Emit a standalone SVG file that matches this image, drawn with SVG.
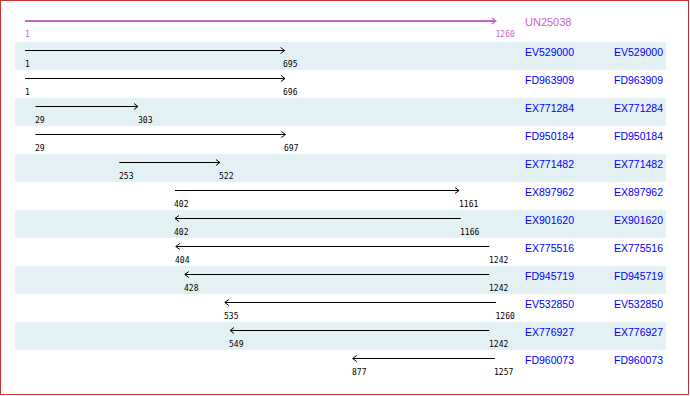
<svg xmlns="http://www.w3.org/2000/svg" width="690" height="396" viewBox="0 0 690 396">
<style>
.band{fill:#E3F0F4}
.hit{stroke:#000;stroke-width:1;fill:none;marker-end:url(#ah)}
.q{stroke:#C864C8;stroke-width:2;fill:none;marker-end:url(#ahq)}
.num{font-family:"DejaVu Sans Mono","Liberation Mono",monospace;font-size:8px;fill:#000}
.qnum{font-family:"DejaVu Sans Mono","Liberation Mono",monospace;font-size:8px;fill:#C864C8}
.name{font-family:"Liberation Sans",Arial,sans-serif;font-size:10.5px;fill:#0000FF}
.qname{font-family:"Liberation Sans",Arial,sans-serif;font-size:11px;fill:#C864C8}
</style>
<defs>
<marker id="ah" markerUnits="userSpaceOnUse" markerWidth="8" markerHeight="8" viewBox="-6 -4 8 8" refX="0" refY="0" orient="auto"><path d="M-4,-3 L0,0 L-4,3" fill="none" stroke="#000" stroke-width="1"/></marker>
<marker id="ahq" markerUnits="userSpaceOnUse" markerWidth="8" markerHeight="8" viewBox="-6 -4 8 8" refX="0" refY="0" orient="auto"><path d="M-4,-3 L0,0 L-4,3" fill="none" stroke="#C864C8" stroke-width="1.2"/></marker>
</defs>
<rect x="0.5" y="0.5" width="688" height="394" fill="#fff" stroke="#C83737" stroke-width="1"/>
<g id="bands">
<rect class="band" x="15" y="42" width="651" height="28"/>
<rect class="band" x="15" y="98" width="651" height="28"/>
<rect class="band" x="15" y="154" width="651" height="28"/>
<rect class="band" x="15" y="210" width="651" height="28"/>
<rect class="band" x="15" y="266" width="651" height="28"/>
<rect class="band" x="15" y="322" width="651" height="28"/>
</g>
<g id="connectors">
<line class="q" x1="25" y1="21" x2="496" y2="21"/>
<line class="hit" x1="25" y1="50.5" x2="284.6" y2="50.5"/>
<line class="hit" x1="25" y1="78.5" x2="285" y2="78.5"/>
<line class="hit" x1="35.5" y1="106.5" x2="138" y2="106.5"/>
<line class="hit" x1="35.5" y1="134.5" x2="285.4" y2="134.5"/>
<line class="hit" x1="119.3" y1="162.5" x2="219.9" y2="162.5"/>
<line class="hit" x1="175" y1="190.5" x2="459" y2="190.5"/>
<line class="hit" x1="460.8" y1="218.5" x2="175" y2="218.5"/>
<line class="hit" x1="489.3" y1="246.5" x2="175.8" y2="246.5"/>
<line class="hit" x1="489.3" y1="274.5" x2="184.8" y2="274.5"/>
<line class="hit" x1="496" y1="302.5" x2="224.8" y2="302.5"/>
<line class="hit" x1="489.3" y1="330.5" x2="230" y2="330.5"/>
<line class="hit" x1="494.9" y1="358.5" x2="352.7" y2="358.5"/>
</g>
<g id="query">
<text class="qnum" x="25" y="36.5">1</text>
<text class="qnum" x="495.5" y="36.5">1260</text>
<text class="qname" x="525" y="25.5">UN25038</text>
</g>
<g id="EV529000"><text class="num" x="25" y="66.5">1</text><text class="num" x="283" y="66.5">695</text><text class="name" x="525" y="56">EV529000</text><text class="name" x="614" y="56">EV529000</text></g>
<g id="FD963909"><text class="num" x="25" y="94.5">1</text><text class="num" x="283" y="94.5">696</text><text class="name" x="525" y="84">FD963909</text><text class="name" x="614" y="84">FD963909</text></g>
<g id="EX771284"><text class="num" x="35" y="122.5">29</text><text class="num" x="138" y="122.5">303</text><text class="name" x="525" y="112">EX771284</text><text class="name" x="614" y="112">EX771284</text></g>
<g id="FD950184"><text class="num" x="35" y="150.5">29</text><text class="num" x="284" y="150.5">697</text><text class="name" x="525" y="140">FD950184</text><text class="name" x="614" y="140">FD950184</text></g>
<g id="EX771482"><text class="num" x="119" y="178.5">253</text><text class="num" x="219" y="178.5">522</text><text class="name" x="525" y="168">EX771482</text><text class="name" x="614" y="168">EX771482</text></g>
<g id="EX897962"><text class="num" x="174" y="206.5">402</text><text class="num" x="459" y="206.5">1161</text><text class="name" x="525" y="196">EX897962</text><text class="name" x="614" y="196">EX897962</text></g>
<g id="EX901620"><text class="num" x="174" y="234.5">402</text><text class="num" x="460" y="234.5">1166</text><text class="name" x="525" y="224">EX901620</text><text class="name" x="614" y="224">EX901620</text></g>
<g id="EX775516"><text class="num" x="175" y="262.5">404</text><text class="num" x="489" y="262.5">1242</text><text class="name" x="525" y="252">EX775516</text><text class="name" x="614" y="252">EX775516</text></g>
<g id="FD945719"><text class="num" x="184" y="290.5">428</text><text class="num" x="489" y="290.5">1242</text><text class="name" x="525" y="280">FD945719</text><text class="name" x="614" y="280">FD945719</text></g>
<g id="EV532850"><text class="num" x="224" y="318.5">535</text><text class="num" x="495.5" y="318.5">1260</text><text class="name" x="525" y="308">EV532850</text><text class="name" x="614" y="308">EV532850</text></g>
<g id="EX776927"><text class="num" x="229" y="346.5">549</text><text class="num" x="489" y="346.5">1242</text><text class="name" x="525" y="336">EX776927</text><text class="name" x="614" y="336">EX776927</text></g>
<g id="FD960073"><text class="num" x="352" y="374.5">877</text><text class="num" x="494" y="374.5">1257</text><text class="name" x="525" y="364">FD960073</text><text class="name" x="614" y="364">FD960073</text></g>
</svg>
